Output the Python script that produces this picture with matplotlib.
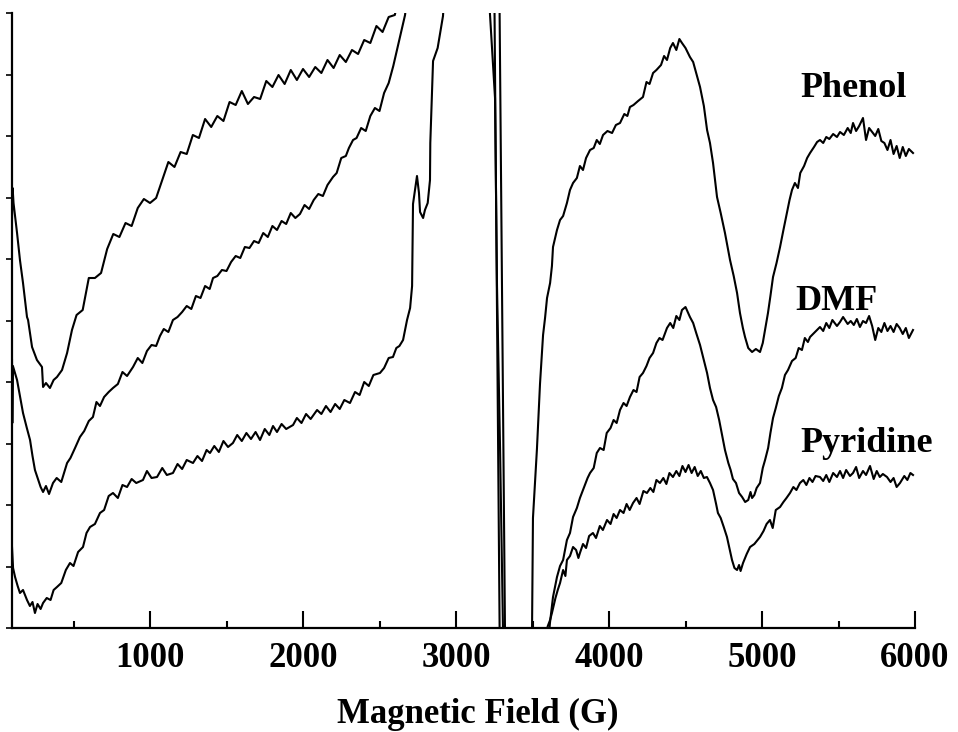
import numpy as np
import matplotlib
matplotlib.use('Agg')
import matplotlib.pyplot as plt

plt.rcParams['font.family'] = ['Liberation Serif', 'DejaVu Serif']

# EPR spectra, (field in G, signal in arbitrary units)
phenol = np.array([
    (98, 410), (102, 440), (108, 425), (131, 395), (150, 368), (170, 345), (183, 328),
    (196, 311), (203, 308), (229, 281), (261, 268), (294, 261), (301, 241), (320, 245),
    (346, 240), (370, 248), (392, 251), (425, 258), (458, 275), (490, 298), (520, 313),
    (560, 318), (600, 350), (640, 350), (680, 355), (720, 379), (760, 394), (800, 391),
    (840, 405), (880, 402), (920, 420), (960, 429), (1000, 425), (1040, 430), (1080, 448),
    (1120, 466), (1160, 461), (1200, 476), (1240, 474), (1280, 493), (1320, 490),
    (1360, 509), (1400, 501), (1440, 512), (1480, 507), (1520, 526), (1560, 523),
    (1600, 537), (1640, 524), (1680, 531), (1720, 529), (1760, 547), (1800, 541),
    (1840, 553), (1880, 544), (1920, 558), (1960, 548), (2000, 559), (2040, 551),
    (2080, 561), (2120, 555), (2160, 568), (2200, 560), (2240, 573), (2280, 566),
    (2320, 578), (2360, 574), (2400, 588), (2440, 585), (2480, 602), (2520, 596),
    (2560, 611), (2600, 613), (2640, 640), (2800, 750), (3000, 800), (3180, 760),
    (3222, 614), (3255, 530), (3268, 342), (3288, 179), (3307, 0), (3320, -300),
    (3400, -350), (3480, -150), (3497, 0), (3503, 110), (3529, 179), (3549, 244),
    (3569, 293), (3582, 310), (3595, 330), (3615, 345), (3627, 362), (3634, 381),
    (3660, 398), (3680, 408), (3700, 412), (3725, 425), (3745, 438), (3765, 445),
    (3790, 450), (3810, 462), (3830, 458), (3850, 470), (3876, 478), (3900, 480),
    (3920, 488), (3940, 484), (3961, 493), (3990, 497), (4020, 495), (4045, 503),
    (4072, 505), (4100, 514), (4120, 512), (4137, 521), (4160, 523), (4190, 527),
    (4222, 531), (4245, 546), (4265, 544), (4288, 555), (4310, 558), (4340, 563),
    (4360, 572), (4379, 568), (4400, 580), (4418, 585), (4440, 578), (4460, 589),
    (4477, 585), (4500, 580), (4529, 571), (4550, 566), (4575, 552), (4595, 541),
    (4620, 522), (4641, 498), (4660, 485), (4680, 465), (4706, 431), (4730, 415),
    (4758, 395), (4791, 368), (4815, 352), (4837, 335), (4856, 315), (4875, 300),
    (4889, 291), (4910, 280), (4935, 276), (4960, 279), (4987, 276), (5005, 285),
    (5020, 298), (5039, 315), (5055, 332), (5072, 351), (5095, 365), (5118, 381),
    (5140, 398), (5163, 415), (5180, 428), (5196, 438), (5215, 445), (5235, 440),
    (5250, 455), (5275, 462), (5295, 470), (5314, 475), (5340, 481), (5360, 486),
    (5379, 488), (5400, 485), (5420, 491), (5440, 489), (5465, 494), (5490, 491),
    (5510, 496), (5535, 493), (5560, 500), (5580, 495), (5595, 505), (5615, 497),
    (5635, 502), (5660, 510), (5680, 488), (5700, 500), (5720, 496), (5740, 492),
    (5760, 499), (5780, 487), (5800, 485), (5820, 478), (5840, 488), (5860, 474),
    (5880, 482), (5900, 470), (5920, 481), (5940, 472), (5960, 479), (5987, 475),
])

dmf = np.array([
    (98, 268), (100, 205), (104, 262), (131, 248), (150, 232), (170, 215), (195, 200),
    (216, 188), (232, 172), (248, 158), (270, 148), (285, 141), (301, 136), (320, 142),
    (340, 134), (366, 145), (390, 150), (420, 146), (458, 165), (480, 170), (510, 180),
    (542, 191), (570, 197), (600, 207), (627, 211), (650, 226), (673, 222), (700, 231),
    (730, 236), (758, 240), (790, 244), (820, 256), (850, 252), (889, 261), (920, 270),
    (950, 265), (980, 277), (1010, 283), (1040, 282), (1065, 292), (1090, 299),
    (1120, 296), (1150, 308), (1180, 311), (1210, 316), (1240, 322), (1270, 319),
    (1300, 332), (1330, 330), (1360, 342), (1390, 339), (1412, 350), (1440, 352),
    (1470, 358), (1500, 357), (1530, 366), (1560, 372), (1590, 370), (1620, 381),
    (1650, 380), (1680, 387), (1710, 385), (1740, 395), (1770, 391), (1800, 402),
    (1830, 398), (1860, 407), (1890, 404), (1920, 415), (1950, 410), (1980, 414),
    (2010, 423), (2040, 419), (2070, 428), (2100, 434), (2130, 432), (2160, 443),
    (2196, 451), (2220, 455), (2250, 470), (2280, 472), (2300, 480), (2327, 488),
    (2350, 490), (2380, 500), (2410, 497), (2440, 512), (2470, 520), (2500, 517),
    (2530, 535), (2560, 545), (2590, 562), (2614, 578), (2640, 595), (2667, 613),
    (2700, 660), (2800, 800), (3000, 850), (3200, 800), (3250, 650), (3285, 0),
    (3295, -300), (3450, -300), (3600, -20), (3614, 5), (3634, 31), (3660, 51),
    (3680, 62), (3700, 68), (3725, 88), (3745, 95), (3765, 111), (3790, 120),
    (3810, 130), (3830, 138), (3860, 150), (3876, 155), (3900, 160), (3920, 175),
    (3941, 180), (3965, 178), (3985, 195), (4010, 200), (4030, 208), (4050, 205),
    (4072, 218), (4095, 225), (4115, 222), (4137, 231), (4160, 238), (4180, 236),
    (4200, 251), (4222, 255), (4245, 262), (4265, 270), (4288, 275), (4310, 285),
    (4330, 290), (4350, 288), (4379, 300), (4400, 305), (4420, 300), (4440, 312),
    (4460, 308), (4477, 318), (4500, 321), (4529, 311), (4550, 305), (4570, 295),
    (4595, 283), (4620, 268), (4641, 255), (4660, 240), (4680, 228), (4700, 221),
    (4720, 208), (4740, 192), (4758, 178), (4780, 165), (4795, 158), (4810, 149),
    (4830, 145), (4850, 135), (4870, 131), (4890, 126), (4910, 128), (4925, 136),
    (4935, 130), (4950, 133), (4965, 140), (4987, 145), (5005, 160), (5020, 168),
    (5040, 180), (5055, 195), (5072, 210), (5090, 220), (5110, 232), (5130, 240),
    (5150, 253), (5170, 258), (5196, 267), (5220, 270), (5240, 280), (5261, 278),
    (5280, 290), (5300, 286), (5314, 291), (5340, 295), (5360, 298), (5379, 301),
    (5400, 297), (5420, 305), (5440, 300), (5460, 308), (5490, 302), (5510, 306),
    (5530, 311), (5560, 304), (5580, 307), (5600, 303), (5620, 309), (5640, 301),
    (5660, 307), (5680, 305), (5700, 312), (5720, 302), (5740, 288), (5760, 300),
    (5780, 296), (5800, 305), (5820, 297), (5840, 302), (5860, 296), (5880, 304),
    (5900, 300), (5920, 294), (5940, 300), (5960, 290), (5987, 298),
])

pyridine = np.array([
    (98, 81), (105, 60), (118, 51), (135, 42), (150, 35), (170, 38), (196, 28),
    (215, 22), (232, 26), (248, 15), (265, 24), (285, 19), (301, 25), (325, 30),
    (350, 28), (370, 38), (392, 41), (420, 45), (450, 58), (477, 65), (500, 62),
    (530, 76), (562, 81), (585, 95), (608, 101), (640, 104), (673, 115), (700, 118),
    (730, 132), (758, 135), (790, 130), (820, 143), (850, 141), (880, 149), (910, 145),
    (954, 148), (980, 157), (1010, 150), (1046, 151), (1080, 160), (1110, 153),
    (1150, 155), (1180, 164), (1210, 159), (1240, 168), (1281, 165), (1310, 172),
    (1340, 167), (1370, 178), (1392, 175), (1420, 182), (1450, 176), (1480, 187),
    (1510, 181), (1542, 185), (1570, 193), (1600, 187), (1630, 195), (1660, 189),
    (1690, 196), (1719, 188), (1750, 199), (1780, 193), (1804, 202), (1830, 196),
    (1860, 204), (1890, 199), (1935, 203), (1960, 210), (1990, 205), (2020, 214),
    (2050, 209), (2092, 218), (2120, 214), (2150, 222), (2180, 216), (2210, 224),
    (2240, 219), (2270, 228), (2307, 225), (2340, 236), (2370, 233), (2400, 246),
    (2430, 242), (2460, 253), (2503, 255), (2530, 260), (2560, 270), (2588, 271),
    (2610, 280), (2630, 282), (2654, 288), (2680, 308), (2700, 320), (2713, 342),
    (2719, 424), (2745, 452), (2758, 435), (2765, 416), (2785, 410), (2797, 418),
    (2815, 425), (2830, 448), (2832, 485), (2850, 567), (2880, 580), (2915, 612),
    (2950, 700), (3100, 850), (3283, 650), (3320, 0), (3330, -300), (3500, -300),
    (3580, -10), (3600, 2), (3615, 8), (3627, 15), (3650, 30), (3665, 38), (3680, 45),
    (3700, 58), (3715, 52), (3725, 68), (3745, 72), (3765, 81), (3785, 78), (3800, 70),
    (3810, 75), (3830, 84), (3850, 80), (3870, 92), (3895, 95), (3915, 90), (3940, 102),
    (3960, 98), (3987, 108), (4010, 104), (4030, 114), (4050, 110), (4072, 118),
    (4095, 115), (4115, 124), (4135, 118), (4157, 125), (4180, 130), (4200, 124),
    (4225, 137), (4248, 135), (4270, 140), (4290, 136), (4310, 148), (4333, 145),
    (4355, 150), (4375, 144), (4395, 155), (4418, 151), (4440, 157), (4460, 152),
    (4480, 162), (4500, 156), (4520, 163), (4540, 155), (4560, 161), (4580, 152),
    (4600, 157), (4620, 150), (4640, 151), (4660, 145), (4680, 138), (4700, 124),
    (4712, 115), (4730, 110), (4750, 101), (4771, 91), (4790, 78), (4804, 68),
    (4820, 60), (4837, 58), (4850, 63), (4860, 57), (4876, 65), (4900, 74), (4922, 81),
    (4950, 84), (4987, 91), (5010, 97), (5030, 104), (5052, 108), (5070, 100),
    (5090, 118), (5118, 121), (5140, 126), (5160, 130), (5183, 135), (5205, 141),
    (5225, 138), (5248, 145), (5270, 148), (5290, 143), (5310, 150), (5330, 146),
    (5350, 152), (5379, 151), (5400, 147), (5420, 153), (5440, 146), (5465, 155),
    (5490, 151), (5510, 157), (5530, 150), (5550, 158), (5575, 152), (5595, 155),
    (5615, 161), (5635, 150), (5660, 157), (5680, 153), (5706, 162), (5730, 149),
    (5750, 157), (5770, 151), (5790, 154), (5817, 151), (5840, 146), (5860, 150),
    (5880, 141), (5902, 145), (5930, 152), (5950, 148), (5970, 155), (5987, 153),
])

names = ['Phenol', 'DMF', 'Pyridine']
label_pos = [(5248, 531), (5216, 318), (5248, 176)]
x_ticks = [1000, 2000, 3000, 4000, 5000, 6000]

fig = plt.figure(figsize=(9.58, 7.32), dpi=100)
ax = fig.add_axes([12 / 958, 104 / 732, 903 / 958, 615 / 732])

for curve in (phenol, dmf, pyridine):
    ax.plot(curve[:, 0], curve[:, 1], color='black', lw=1.5)

for name, (x, y) in zip(names, label_pos):
    ax.text(x, y, name, fontsize=26, fontweight='bold', ha='left', va='baseline')

ax.set_xlim(98, 6000)
ax.set_ylim(0, 615)

ax.spines['top'].set_visible(False)
ax.spines['right'].set_visible(False)
ax.spines['left'].set_linewidth(1.6)
ax.spines['bottom'].set_linewidth(1.6)

ax.set_xticks(x_ticks)
ax.set_xticks(np.arange(500, 6000, 1000), minor=True)
ax.set_xticklabels([str(t) for t in x_ticks], fontsize=25, fontweight='bold')
ax.tick_params(axis='x', which='major', direction='in', length=12, width=1.5, pad=10)
ax.tick_params(axis='x', which='minor', direction='in', length=5, width=1.5)

ax.set_yticks(np.arange(0, 616, 61.5))
ax.set_yticklabels([])
ax.tick_params(axis='y', direction='out', length=4, width=1.2)

ax.set_xlabel('Magnetic Field (G)', fontsize=25, fontweight='bold')
ax.xaxis.set_label_coords(0.516, -0.113)

fig.savefig('out.png', dpi=100)
